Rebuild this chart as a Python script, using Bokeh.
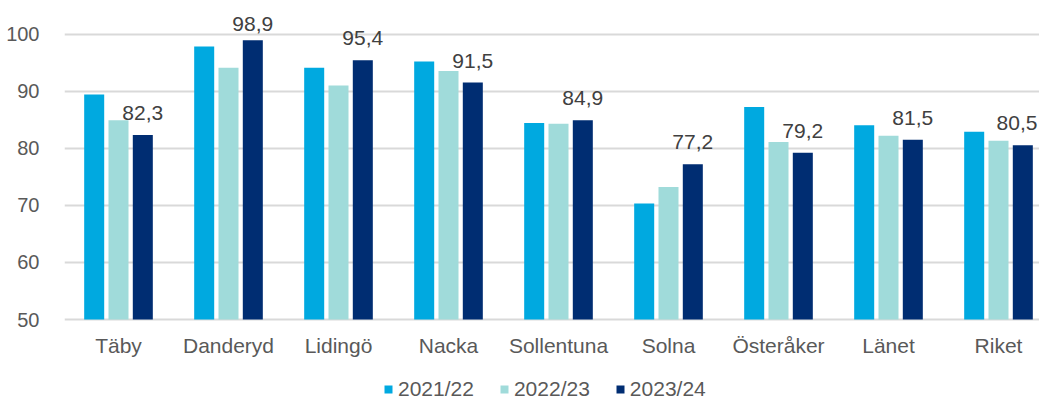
from bokeh.plotting import figure
from bokeh.models import ColumnDataSource, Range1d, FixedTicker, Legend, LegendItem
from bokeh.transform import dodge
from bokeh.embed import file_html
from bokeh.resources import INLINE

categories = ["Täby", "Danderyd", "Lidingö", "Nacka", "Sollentuna", "Solna", "Österåker", "Länet", "Riket"]
series_names = ["2021/22", "2022/23", "2023/24"]
v2122 = [89.4, 97.8, 94.1, 95.2, 84.4, 70.3, 87.2, 84.0, 82.9]
v2223 = [84.9, 94.1, 91.0, 93.5, 84.3, 73.2, 81.1, 82.2, 81.3]
v2324 = [82.3, 98.9, 95.4, 91.5, 84.9, 77.2, 79.2, 81.5, 80.5]
label_texts = ["82,3", "98,9", "95,4", "91,5", "84,9", "77,2", "79,2", "81,5", "80,5"]
y_ticks = [50, 60, 70, 80, 90, 100]

colors = ["#00A9E0", "#A0DBDA", "#002D72"]
FONT = "Liberation Sans"

W, H = 1039, 401
LEFT = 64
ppu = 5.71
BASE_PX = 319.0          # pixel row of the value 50 inside the canvas
Y1 = 50 + BASE_PX / ppu
Y0 = 50 - (H - BASE_PX) / ppu
frame_w = W - LEFT
xppu = 110.0
X0 = -54.0 / xppu
X1 = X0 + frame_w / xppu

bw = 0.182
sp = 0.221

xs = list(range(len(categories)))
# label offsets: above the bar, kept inside the chart area
yoffs, xoffs = [], []
half_label = 21.5
for i, v in enumerate(v2324):
    top_px = (Y1 - v) * ppu
    yoffs.append(-min(22.0, top_px - 23.7))
    cx = (i + sp - X0) * xppu
    xoffs.append(min(0.0, frame_w - 1 - (cx + half_label)))

src = ColumnDataSource(dict(x=xs, a=v2122, b=v2223, c=v2324, lab=label_texts,
                            yoff=yoffs, xoff=xoffs))

p = figure(width=W, height=H, output_backend="svg", toolbar_location=None,
           x_range=Range1d(X0, X1), y_range=Range1d(Y0, Y1),
           min_border_left=LEFT, min_border_right=0, min_border_top=0, min_border_bottom=0)
p.outline_line_color = None
p.background_fill_color = "white"

r1 = p.vbar(x=dodge("x", -sp, range=p.x_range), top="a", bottom=50, width=bw, source=src,
            fill_color=colors[0], line_color=None)
r2 = p.vbar(x=dodge("x", 0, range=p.x_range), top="b", bottom=50, width=bw, source=src,
            fill_color=colors[1], line_color=None)
r3 = p.vbar(x=dodge("x", sp, range=p.x_range), top="c", bottom=50, width=bw, source=src,
            fill_color=colors[2], line_color=None)

p.text(x=dodge("x", sp, range=p.x_range), y="c", text="lab", source=src,
       x_offset="xoff", y_offset="yoff", text_align="center", text_baseline="alphabetic",
       text_font={"value": FONT}, text_font_size="21px", text_color="#404040")

# axes
p.xaxis.fixed_location = 50
p.xaxis.ticker = FixedTicker(ticks=xs)
p.xaxis.major_label_overrides = {i: c for i, c in zip(xs, categories)}
p.xaxis.axis_line_color = None
p.xaxis.major_tick_line_color = None
p.xaxis.minor_tick_line_color = None
p.xaxis.major_label_text_font = FONT
p.xaxis.major_label_text_font_size = "21px"
p.xaxis.major_label_text_color = "#595959"
p.xaxis.major_label_standoff = 8

p.yaxis.ticker = FixedTicker(ticks=y_ticks)
p.yaxis.axis_line_color = None
p.yaxis.major_tick_line_color = None
p.yaxis.minor_tick_line_color = None
p.yaxis.major_label_text_font = FONT
p.yaxis.major_label_text_font_size = "20px"
p.yaxis.major_label_text_color = "#595959"
p.yaxis.major_label_standoff = 19

p.xgrid.grid_line_color = None
p.ygrid.ticker = FixedTicker(ticks=y_ticks)
p.ygrid.grid_line_color = "#D9D9D9"
p.ygrid.grid_line_width = 2

legend = Legend(items=[LegendItem(label=series_names[0], renderers=[r1]),
                       LegendItem(label=series_names[1], renderers=[r2]),
                       LegendItem(label=series_names[2], renderers=[r3])],
                orientation="horizontal", location=(319, 0),
                glyph_width=10, glyph_height=10, label_standoff=5, spacing=25,
                padding=0, margin=0, border_line_color=None, background_fill_alpha=0,
                label_text_font=FONT, label_text_font_size="21px", label_text_color="#595959")
p.add_layout(legend, "center")

open("out.html", "w").write(file_html(p, INLINE))
